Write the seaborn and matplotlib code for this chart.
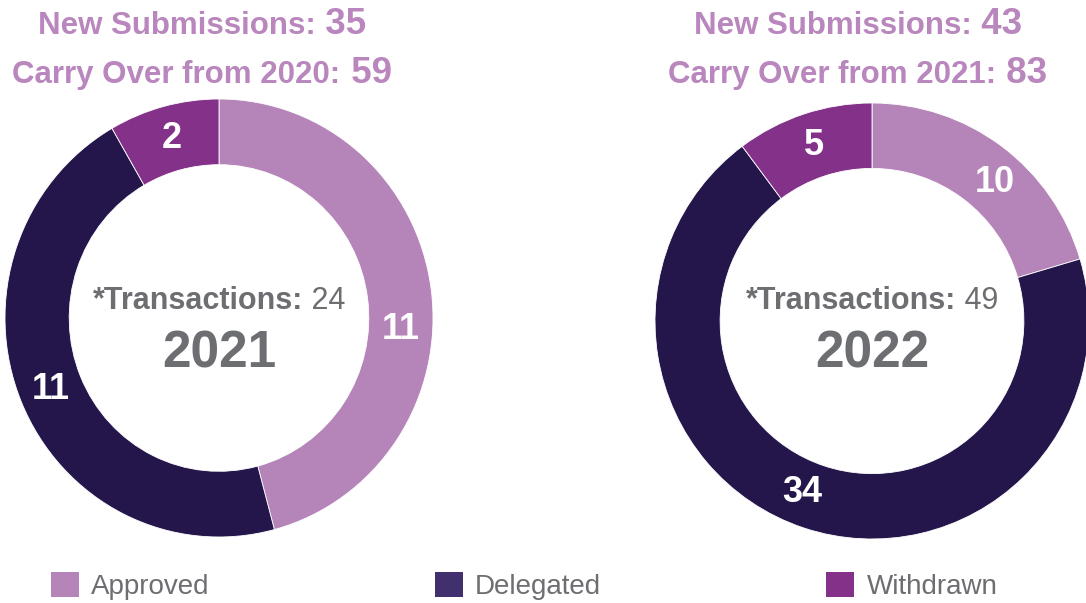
import matplotlib
matplotlib.use("Agg")
import numpy as np
import matplotlib.pyplot as plt
import seaborn as sns
from matplotlib.patches import Patch

categories = ["Approved", "Delegated", "Withdrawn"]
years = ["2021", "2022"]
counts_2021 = [11, 11, 2]
counts_2022 = [10, 34, 5]
new_submissions = [35, 43]
carry_over = [59, 83]
carry_from = ["2020", "2021"]
transactions = [24, 49]

ring_colors = ["#B584B9", "#24164A", "#843289"]
legend_colors = ["#B584B9", "#42306E", "#843289"]
title_color = "#B987BD"
gray = "#6D6E71"

W, H = 1086, 603

sns.set_theme(style="white")
plt.rcParams["font.family"] = ["Liberation Sans", "DejaVu Sans"]

fig = plt.figure(figsize=(W / 100, H / 100), dpi=100)
renderer = fig.canvas.get_renderer()


def px_axes(x, y, w, h):
    return fig.add_axes([x / W, 1 - (y + h) / H, w / W, h / H])


def draw_line(xc, y, pieces):
    # pieces of (text, size, weight), centred as one line on xc
    texts, widths = [], []
    for s, size, weight, color in pieces:
        t = fig.text(0, 1 - y / H, s, fontsize=size, fontweight=weight,
                     color=color, ha="left", va="baseline")
        texts.append(t)
        widths.append(t.get_window_extent(renderer).width)
    x = xc - sum(widths) / 2
    for t, w in zip(texts, widths):
        t.set_x(x / W)
        x += w


boxes = [(5, 99, 428, 438), (655, 103, 434, 436)]
title_x = [202, 858]
nudges = [[-11, 0, 0], [-5, -4, 0]]

for i, counts in enumerate([counts_2021, counts_2022]):
    bx, by, bw, bh = boxes[i]
    ax = px_axes(bx, by, bw, bh)
    ax.pie(counts, colors=ring_colors, startangle=90, counterclock=False,
           radius=1, wedgeprops=dict(width=0.3, edgecolor="white", linewidth=0.6))
    ax.set_aspect("auto")
    ax.set_xlim(-1, 1)
    ax.set_ylim(-1, 1)
    ax.axis("off")

    total = sum(counts)
    cum = np.cumsum(counts)
    for v, c, nd in zip(counts, cum, nudges[i]):
        ang = np.deg2rad(90 - 360 * (c - v / 2) / total + nd)
        ax.text(0.85 * np.cos(ang), 0.85 * np.sin(ang), str(v), color="white",
                fontsize=26, fontweight="bold", ha="center", va="center")

    xc = bx + bw / 2
    draw_line(xc, 309, [("*Transactions:", 22, "bold", gray),
                        (" " + str(transactions[i]), 22, "normal", gray)])
    draw_line(xc, 368, [(years[i], 37, "bold", gray)])

    draw_line(title_x[i], 34, [("New Submissions:", 22.5, "bold", title_color),
                               (" " + str(new_submissions[i]), 26.5, "bold", title_color)])
    draw_line(title_x[i], 83, [("Carry Over from " + carry_from[i] + ":", 22.5, "bold", title_color),
                               (" " + str(carry_over[i]), 26.5, "bold", title_color)])

handles = [Patch(facecolor=c, edgecolor="none") for c in legend_colors]
fig.legend(handles, categories, loc="center left",
           bbox_to_anchor=(51 / W, 1 - 586 / H), ncol=3, frameon=False,
           fontsize=20, handlelength=1.0, handleheight=1.0,
           handletextpad=0.45, columnspacing=8.1, borderpad=0,
           borderaxespad=0, labelcolor=gray)

fig.savefig("out.png", dpi=100)
